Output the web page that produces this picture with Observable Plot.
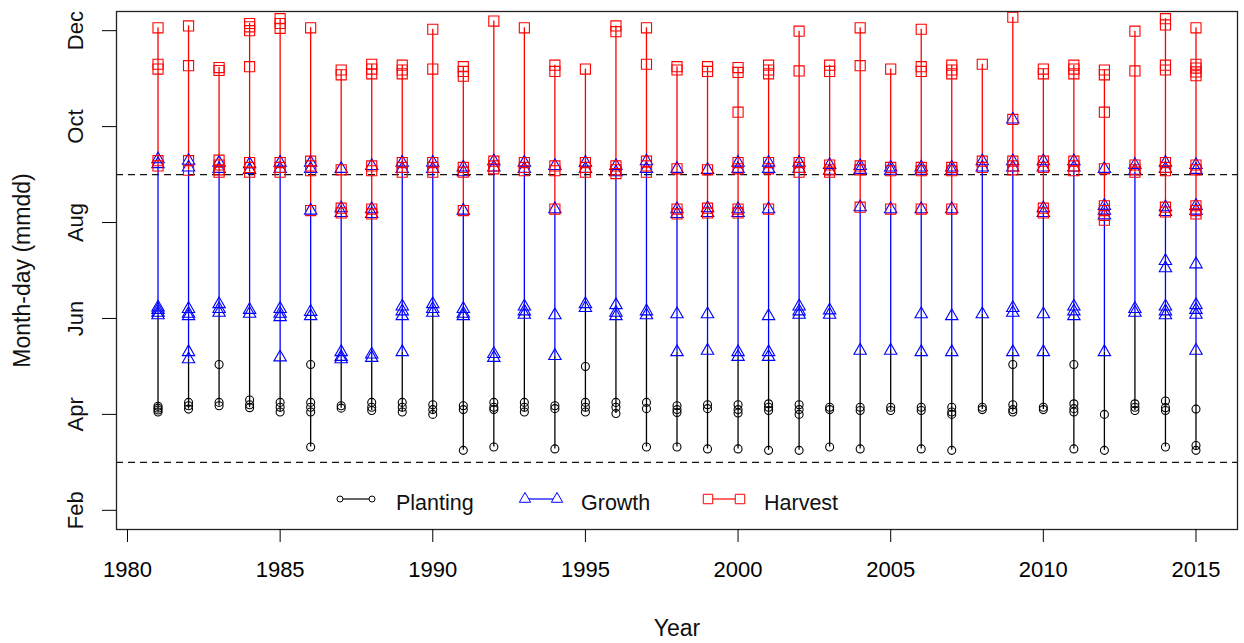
<!DOCTYPE html>
<html>
<head>
<meta charset="utf-8">
<script src="https://cdn.jsdelivr.net/npm/d3@7"></script>
<script src="https://cdn.jsdelivr.net/npm/@observablehq/plot@0.6"></script>
<style>
  html, body { margin: 0; padding: 0; background: #fff; }
  #chart svg { display: block; }
</style>
</head>
<body>
<div id="chart"></div>
<script>
// ---- data (dates coded as mmdd numbers) ----
const years = [1981,1982,1983,1984,1985,1986,1987,1988,1989,1990,1991,1992,1993,1994,1995,1996,1997,1998,
  1999,2000,2001,2002,2003,2004,2005,2006,2007,2008,2009,2010,2011,2012,2013,2014,2015];

const planting = [
  [417,413,409,405],[425,418,411],[504,425,418],[430,420,414],[425,415,405],
  [504,425,415,405,332],[418,413],[425,415,408],[425,415,405],[420,410,400],
  [418,410,325],[425,415,410,332],[425,415,405],[418,412,328],[500,425,415,405],
  [425,415,402],[425,412,332],[418,410,404,332],[420,412,328],[420,410,403,328],
  [422,415,408,325],[420,410,400,325],[415,410,332],[415,408,328],[415,408],
  [415,408,328],[415,405,400,325],[415,410],[504,420,410,405],[415,410],
  [504,422,412,405,328],[400,325],[422,415,408],[428,414,408,332],[411,335,325]
];

const growth = [
  [932,922,623,618,612,607],[929,915,620,610,605,530,515],[925,912,630,620,612],[922,910,618,610],[925,912,620,610,603,519],
  [925,912,825,614,605],[912,830,820,530,520,515],[918,828,818,525,518],[925,912,625,615,605,530],[925,912,630,620,612],
  [915,905,825,620,610,605],[928,915,526,518],[925,912,625,615,608],[918,828,607,522],[925,912,630,622],
  [918,905,628,612,605],[928,912,615,607],[912,828,818,609,530],[910,830,820,609,533],[925,912,828,820,530,520],
  [925,912,828,605,530,520],[925,912,625,615,608],[920,908,617,608],[918,910,832,533],[915,908,828,533],
  [915,908,828,609,530],[915,908,828,605,530],[928,915,609],[1015,928,915,622,612,530],[928,915,830,820,609,530],
  [928,915,625,615,605],[912,835,825,815,530],[920,908,620,612],[925,912,832,822,720,705,625,615,607],[920,910,835,825,713,628,618,608,533]
];

const harvest = [
  [1206,1130,1120,929,918],[1210,1127,929,909],[1123,1117,930,920,910,905],[1215,1208,1200,1125,925,915,905],[1225,1215,1205,925,915,905],
  [1206,928,918,908,825],[1118,1108,910,830,820],[1130,1120,1110,918,908,828,818],[1128,1118,1110,925,915,905],[1203,1120,925,915,905],
  [1125,1115,1105,915,905,825],[1220,928,918,912],[1206,925,915,908],[1128,1115,918,908,828],[1120,925,915,905],
  [1210,1198,918,910,902],[1206,1130,928,918,905],[1125,1118,912,828,818],[1125,1115,910,830,820],[1123,1113,1030,925,912,828,820],
  [1128,1118,1110,925,912,828],[1199,1116,925,915,905],[1128,1115,920,910,905],[1206,1127,918,910,832],[1120,915,908,828],
  [1203,1125,1115,915,908,828],[1128,1118,1110,915,908,828],[1130,928,915],[1228,1015,928,918,910],[1120,1110,928,915,830,820],
  [1128,1120,1110,928,918,908],[1118,1108,1030,912,835,825,815,805],[1199,1116,920,910,905],[1225,1212,1128,1118,925,915,908,832,822],
  [1206,1130,1122,1114,1106,920,910,835,825,818]
];

const xTickValues = [1980,1985,1990,1995,2000,2005,2010,2015];
const yTickValues = [200,400,600,800,1000,1200];
const yTickLabels = ["Feb","Apr","Jun","Aug","Oct","Dec"];
const refLines = [300, 900];
const legendLabels = ["Planting","Growth","Harvest"];
const legendColors = ["black","blue","red"];

// ---- derived tables ----
const toRows = arr => years.flatMap((yr, i) => arr[i].map(v => ({year: yr, value: v})));
const P = toRows(planting), G = toRows(growth), H = toRows(harvest);
const spans = years.map((yr, i) => ({
  year: yr,
  pMin: d3.min(planting[i]),
  gMin: d3.min(growth[i]),
  hMin: d3.min(harvest[i]),
  hMax: d3.max(harvest[i])
}));

const FONT = "'Liberation Sans', Arial, Helvetica, sans-serif";

const chart = Plot.plot({
  width: 1244,
  height: 643,
  marginLeft: 116,
  marginRight: 7,
  marginTop: 11,
  marginBottom: 114,
  style: {fontFamily: FONT, fontSize: "22px", color: "black", background: "white"},
  x: {domain: [1979.64, 2016.36]},
  y: {domain: [160, 1240]},
  marks: [
    Plot.ruleY(refLines, {stroke: "#111", strokeWidth: 1.2, strokeDasharray: "7,5"}),
    Plot.ruleX(spans, {x: "year", y1: "pMin", y2: "gMin", stroke: "black", strokeWidth: 1.3}),
    Plot.ruleX(spans, {x: "year", y1: "gMin", y2: "hMin", stroke: "blue", strokeWidth: 1.3}),
    Plot.ruleX(spans, {x: "year", y1: "hMin", y2: "hMax", stroke: "red", strokeWidth: 1.3}),
    Plot.dot(P, {x: "year", y: "value", symbol: "circle", r: 4, stroke: "black", strokeWidth: 1.1}),
    Plot.dot(G, {x: "year", y: "value", symbol: "triangle", r: 4.6, stroke: "blue", strokeWidth: 1.1}),
    Plot.dot(H, {x: "year", y: "value", symbol: "square", r: 5.7, stroke: "red", strokeWidth: 1.1}),
    Plot.frame({stroke: "#222", strokeWidth: 1.3}),
    Plot.axisX({ticks: xTickValues, tickSize: 13, tickPadding: 19, tickFormat: d => String(d), label: null, fontSize: 22}),
    Plot.axisY({ticks: yTickValues, tickSize: 14, tickFormat: () => "", label: null}),
    Plot.text(yTickValues, {y: d => d, text: (d, i) => yTickLabels[i], frameAnchor: "left", dx: -34,
      rotate: -90, textAnchor: "middle", lineAnchor: "bottom", fontSize: 22, fill: "#111"}),
    Plot.text(["Month-day (mmdd)"], {frameAnchor: "left", dx: -87, rotate: -90, textAnchor: "middle",
      lineAnchor: "bottom", fontSize: 23, fill: "#111"}),
    Plot.text(["Year"], {frameAnchor: "bottom", dy: 106, textAnchor: "middle", lineAnchor: "bottom",
      fontSize: 23, fill: "#111"})
  ]
});

document.getElementById("chart").appendChild(chart);

// ---- legend (inside the plot, bottom) ----
const svg = d3.select(chart);
const lg = svg.append("g").attr("font-family", FONT).attr("font-size", 21.5)
  .attr("fill", "#111").attr("text-anchor", "start");
const itemX = [340, 525, 708];
const symY = 499;
const symbols = [d3.symbolCircle, d3.symbolTriangle, d3.symbolSquare];
const symSize = [Math.PI * 3 * 3, Math.PI * 4.2 * 4.2, 90];
legendLabels.forEach((lab, i) => {
  const g = lg.append("g").attr("transform", `translate(${itemX[i]},0)`);
  g.append("line").attr("x1", 0).attr("x2", 32).attr("y1", symY).attr("y2", symY)
    .attr("stroke", legendColors[i]).attr("stroke-width", 1.2);
  [0, 32].forEach(dx => {
    g.append("path").attr("d", d3.symbol(symbols[i], symSize[i])())
      .attr("transform", `translate(${dx},${symY})`)
      .attr("fill", "white").attr("stroke", legendColors[i]).attr("stroke-width", 1);
  });
  g.append("text").attr("x", 56).attr("y", 510).attr("text-anchor", "start").text(lab);
});
</script>
</body>
</html>
